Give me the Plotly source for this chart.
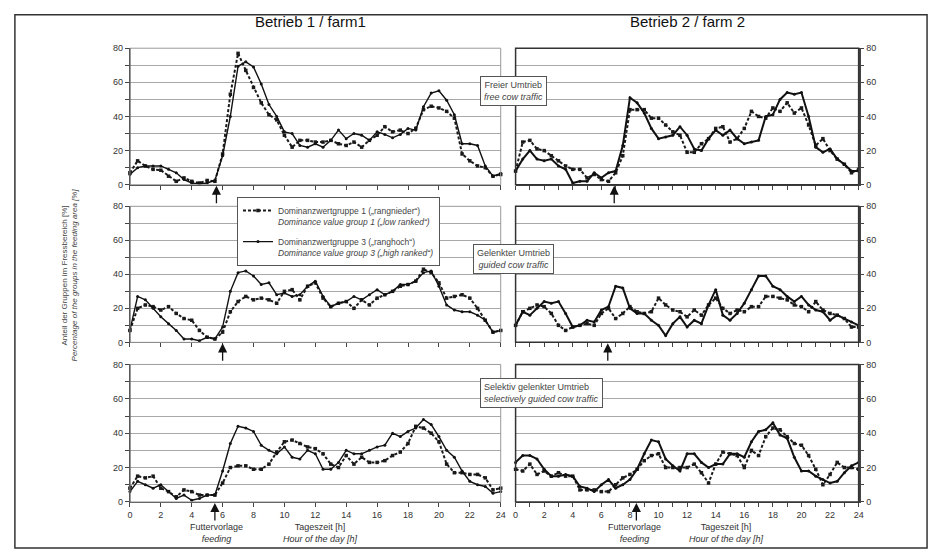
import plotly.graph_objects as go

HOURS = [0, 0.5, 1, 1.5, 2, 2.5, 3, 3.5, 4, 4.5, 5, 5.5, 6, 6.5, 7, 7.5, 8, 8.5, 9, 9.5,
         10, 10.5, 11, 11.5, 12, 12.5, 13, 13.5, 14, 14.5, 15, 15.5, 16, 16.5, 17, 17.5,
         18, 18.5, 19, 19.5, 20, 20.5, 21, 21.5, 22, 22.5, 23, 23.5, 24]

# Betrieb 1 / farm1
F1_FREE_G1 = [7, 14, 11, 9, 8.5, 5, 2, 4, 2, 1, 2.5, 2, 18, 53, 77, 67, 57, 48, 41, 38,
              29, 22, 26, 26, 25, 25, 26, 24, 23, 25, 22, 26, 29, 34, 31, 32,
              30, 33, 44, 46, 45, 43, 39, 18, 14, 11, 10, 5, 6]
F1_FREE_G3 = [6, 10, 11, 11, 11, 9, 7, 3, 1, 0.5, 1, 2.5, 17, 40, 69.5, 72, 69, 59, 47, 40,
              31, 30, 23, 22, 24, 22, 26, 32, 27, 30, 29, 26, 31, 29.5, 27.5, 29.5,
              33, 32, 45.7, 53.7, 55, 49.5, 41, 24, 24, 23, 11, 5, 6.7]
F1_GUIDED_G1 = [7, 20, 22, 21, 19, 21, 17, 14, 13, 7, 3, 2, 6, 18, 24, 27, 25, 26, 25, 23,
                30, 31, 25, 33, 35, 26, 21, 23, 24, 20, 25, 22, 26, 28, 30, 33,
                34, 36, 43, 41, 35, 26, 27, 28, 26, 20, 13, 6, 7]
F1_GUIDED_G3 = [7, 27, 25, 20, 15, 11, 7, 2, 2, 1, 3, 2, 9, 30, 41, 42, 39, 34, 35, 28,
                29, 27, 28, 33, 36, 27, 21, 23, 24, 27, 25, 28, 31, 28, 30, 34,
                34, 36, 41, 42, 33, 22, 19, 18, 18, 16, 13, 6, 7]
F1_SELECT_G1 = [8, 15, 14, 15, 8, 6, 3, 7, 6, 4, 4, 4, 11, 20, 21, 21, 19, 19, 22, 29,
                35, 36, 34, 32, 31, 28, 22, 20, 27, 22, 26, 23, 23, 24, 27, 29,
                34, 44, 43, 40, 35, 22, 17, 17, 16, 16, 14, 7, 8]
F1_SELECT_G3 = [6, 12, 10, 8, 10, 6, 2, 4, 1, 2, 4, 4, 18, 34, 44, 43, 41, 33, 30, 28,
                32, 26, 25, 30, 28, 19, 19, 23, 30, 28, 28, 30, 32, 33, 40, 38,
                41, 43, 48, 45, 38, 30, 26, 18, 12, 10, 9, 5, 6]

# Betrieb 2 / farm 2
F2_FREE_G1 = [8, 25, 26, 21, 20, 17, 14, 11, 9, 9, 4, 6, 3, 2, 7, 17, 44, 44, 44, 39,
              39, 35, 31, 29, 19, 19, 24, 27, 33, 34, 25, 27, 33, 43, 40, 39,
              45, 43, 48, 42, 45, 35, 23, 27, 20, 15, 12, 7, 9]
F2_FREE_G3 = [8, 15, 20, 15, 14, 15, 11, 9, 1, 2, 2, 7, 4, 7, 8, 23, 51, 48, 42, 33,
              27, 28, 29, 34, 29, 21, 20, 27, 32, 29, 32, 27, 24, 25, 26, 40,
              41, 50, 54, 53, 54, 40, 22, 19, 21, 15, 12, 8, 8]
F2_GUIDED_G1 = [10, 18, 20, 22, 21, 17, 10, 7, 9, 10, 11, 10, 17, 20, 14, 17, 21, 18, 17, 18,
                26, 22, 19, 18, 15, 19, 16, 22, 26, 20, 17, 19, 18, 21, 21, 27,
                27, 26, 25, 22, 21, 18, 24, 19, 17, 16, 14, 9, 9]
F2_GUIDED_G3 = [10, 18, 16, 20, 24, 23, 24, 17, 9, 10, 13, 12, 19, 21, 33, 32, 20, 17, 17, 13,
                10, 4, 11, 15, 9, 13, 11, 22, 31, 16, 13, 17, 23, 31, 39, 39,
                33, 31, 27, 24, 27, 22, 19, 18, 13, 16, 14, 12, 10]
F2_SELECT_G1 = [19, 18, 22, 16, 18, 15, 17, 15, 15, 7, 7, 7, 6, 6, 10, 14, 16, 19, 24, 27,
                28, 20, 20, 20, 20, 22, 17, 11, 22, 29, 28, 27, 20, 30, 27, 38,
                43, 42, 38, 34, 33, 27, 19, 10, 16, 23, 20, 20, 19]
F2_SELECT_G3 = [23, 27, 27, 25, 19, 15, 15, 16, 15, 9, 8, 6, 10, 13, 8, 10, 13, 19, 28, 36,
                35, 25, 21, 18, 28, 28, 23, 20, 22, 22, 28, 28, 26, 35, 41, 42,
                46, 39, 37, 26, 18, 18, 15, 13, 11, 12, 17, 21, 23]

FEEDING_F1 = [5.6, 6.0, 5.5]
FEEDING_F2 = [6.9, 6.45, 8.45]

PANEL_LABELS = [("Freier Umtrieb", "free cow traffic"),
                ("Gelenkter Umtrieb", "guided cow traffic"),
                ("Selektiv gelenkter Umtrieb", "selectively guided cow traffic")]

LEGEND_G1 = "Dominanzwertgruppe 1 („rangnieder“)<br><i>Dominance value group 1 („low ranked“)</i>"
LEGEND_G3 = "Dominanzwertgruppe 3 („ranghoch“)<br><i>Dominance value group 3 („high ranked“)</i>"

W, H = 938, 558
FONT = "Liberation Sans, Arial, sans-serif"


def px_x(p):
    return p / W


def px_y(p):
    return (H - p) / H


left_dom = [px_x(128), px_x(502)]
right_dom = [px_x(517), px_x(863)]
row_doms = [[px_y(183), px_y(44)], [px_y(343.5), px_y(205)], [px_y(506), px_y(366)]]

fig = go.Figure()

panels = [
    (F1_FREE_G1, F1_FREE_G3, 0, 0), (F2_FREE_G1, F2_FREE_G3, 0, 1),
    (F1_GUIDED_G1, F1_GUIDED_G3, 1, 0), (F2_GUIDED_G1, F2_GUIDED_G3, 1, 1),
    (F1_SELECT_G1, F1_SELECT_G3, 2, 0), (F2_SELECT_G1, F2_SELECT_G3, 2, 1),
]

layout_axes = {}
shapes = []
annotations = []
first = True
for i, (g1, g3, row, col) in enumerate(panels):
    n = i + 1
    xa = "x" if n == 1 else f"x{n}"
    ya = "y" if n == 1 else f"y{n}"
    xkey = "xaxis" if n == 1 else f"xaxis{n}"
    ykey = "yaxis" if n == 1 else f"yaxis{n}"
    solid_w = 1.4 if col == 0 else 2.0
    fig.add_trace(go.Scatter(
        x=HOURS, y=g1, xaxis=xa, yaxis=ya, mode="lines+markers",
        line=dict(color="#1a1a1a", width=2, dash="3px,2px"),
        marker=dict(symbol="square", size=3.5, color="#1a1a1a"),
        name=LEGEND_G1, showlegend=first, legendgroup="g1", cliponaxis=False))
    fig.add_trace(go.Scatter(
        x=HOURS, y=g3, xaxis=xa, yaxis=ya, mode="lines+markers",
        line=dict(color="#111111", width=solid_w),
        marker=dict(symbol="circle", size=3, color="#111111"),
        name=LEGEND_G3, showlegend=first, legendgroup="g3", cliponaxis=False))
    first = False

    bottom = row == 2
    if col == 0:
        xtv = list(range(0, 25, 2))
        xtt = [str(v) for v in xtv] if bottom else ["" for v in xtv]
    else:
        xtv = list(range(0, 25, 1))
        xtt = [str(v) if (v % 2 == 0 and bottom) else "" for v in xtv]
    layout_axes[xkey] = dict(
        domain=left_dom if col == 0 else right_dom, anchor=ya, range=[0, 24],
        showgrid=False, zeroline=False, showline=True, linecolor="#444", linewidth=1,
        ticks="outside", ticklen=4, tickcolor="#444", tickvals=xtv, ticktext=xtt,
        tickfont=dict(family=FONT, size=9, color="#333"), fixedrange=True)
    ytv = list(range(0, 81, 10))
    ytt = [str(v) if v % 20 == 0 else "" for v in ytv]
    layout_axes[ykey] = dict(
        domain=row_doms[row], anchor=xa, range=[0, 80], side="left" if col == 0 else "right",
        showgrid=True, gridcolor="#a8a8a8", gridwidth=1, zeroline=False,
        showline=True, linecolor="#444", linewidth=1 if col == 0 else 1.5,
        ticks="outside", ticklen=4, tickcolor="#444", tickvals=ytv, ticktext=ytt,
        tickfont=dict(family=FONT, size=9, color="#333"), fixedrange=True)

    # panel frame
    shapes.append(dict(type="rect", xref=f"{xa} domain", yref=f"{ya} domain",
                       x0=0, x1=1, y0=0, y1=1,
                       line=dict(color="#9a9a9a" if col == 0 else "#333", width=1 if col == 0 else 1.5),
                       layer="above"))
    if col == 0:
        shapes.append(dict(type="line", xref=f"{xa} domain", yref=f"{ya} domain",
                           x0=0, x1=0, y0=0, y1=1, line=dict(color="#444", width=1), layer="above"))

    # feeding arrow
    fx = FEEDING_F1[row] if col == 0 else FEEDING_F2[row]
    annotations.append(dict(x=fx, y=0, xref=xa, yref=ya, ax=0, ay=20, text="",
                            showarrow=True, arrowhead=2, arrowsize=1.4, arrowwidth=1.3,
                            arrowcolor="#111", standoff=1))


def paper_text(x, y, text, size, color="#333", angle=0, **kw):
    d = dict(x=px_x(x), y=px_y(y), xref="paper", yref="paper", showarrow=False,
             xanchor="center", yanchor="middle", text=text, textangle=angle,
             font=dict(family=FONT, size=size, color=color))
    d.update(kw)
    return d


# traffic-type boxes
box_pos = [(515, 88, "center"), (515, 259, "center"), (543, 395, "left")]
for (de, en), (bx, by, al) in zip(PANEL_LABELS, box_pos):
    annotations.append(paper_text(bx, by, f"{de}<br><i>{en}</i>", 9, "#444",
                                  align=al, bgcolor="white", bordercolor="#555",
                                  borderwidth=1, borderpad=3))

# titles
annotations.append(paper_text(310, 17, "Betrieb 1 / farm1", 15, "#111"))
annotations.append(paper_text(690, 17, "Betrieb 2 / farm 2", 15, "#111"))

# y axis title
annotations.append(paper_text(62, 275, "Anteil der Gruppen im Fressbereich [%]", 8, "#444", angle=-90))
annotations.append(paper_text(72, 275, "<i>Percentage of the groups in the feeding area [%]</i>",
                              8, "#444", angle=-90))

# x axis texts
for cx, tx in [(215, 320), (637, 730)]:
    annotations.append(paper_text(cx, 538, "Futtervorlage<br><i>feeding</i>", 9))
    annotations.append(paper_text(tx, 538, "Tageszeit [h]<br><i>Hour of the day [h]</i>", 9))

# outer frame
shapes.append(dict(type="rect", xref="paper", yref="paper", x0=px_x(12), x1=px_x(932),
                   y0=px_y(553), y1=px_y(10), line=dict(color="#333", width=1.5)))

fig.update_layout(
    width=W, height=H, margin=dict(l=0, r=0, t=0, b=0),
    paper_bgcolor="white", plot_bgcolor="white",
    font=dict(family=FONT, size=9, color="#333"),
    showlegend=True,
    legend=dict(x=px_x(236), y=px_y(196), xanchor="left", yanchor="top",
                bgcolor="white", bordercolor="#555", borderwidth=1,
                font=dict(family=FONT, size=8.5, color="#444"),
                itemwidth=30, tracegroupgap=6, valign="top"),
    shapes=shapes, annotations=annotations, **layout_axes)

fig.write_html("out.html", config={"displayModeBar": False},
               post_script="document.body.style.margin='0';document.body.style.overflow='hidden';")
